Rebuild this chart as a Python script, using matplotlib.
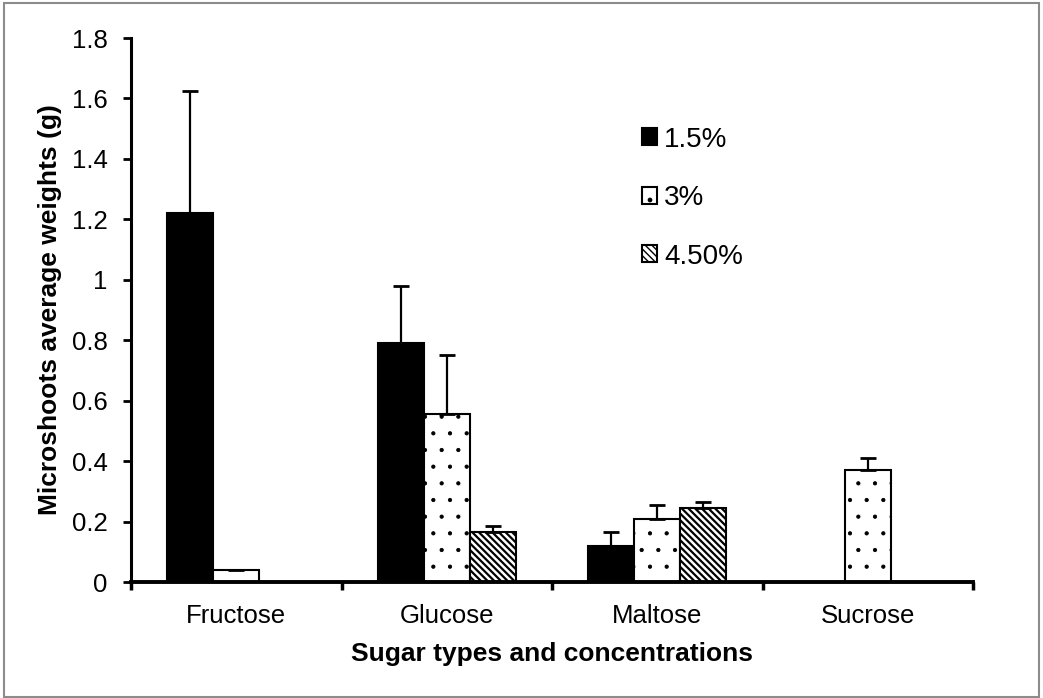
import matplotlib
matplotlib.use("Agg")
import matplotlib.pyplot as plt
import numpy as np
from matplotlib.patches import Rectangle

plt.rcParams['font.family'] = ['Liberation Sans', 'DejaVu Sans']

# data
sugars = ["Fructose", "Glucose", "Maltose", "Sucrose"]
conc_labels = ["1.5%", "3%", "4.50%"]
w_15 = [1.22, 0.79, 0.12, np.nan]
w_30 = [0.04, 0.555, 0.21, 0.37]
w_45 = [np.nan, 0.165, 0.245, np.nan]
err_15 = [0.405, 0.19, 0.045, np.nan]
err_30 = [np.nan, 0.195, 0.045, 0.04]
err_45 = [np.nan, 0.02, 0.02, np.nan]

fig = plt.figure(figsize=(10.43, 6.98), dpi=100)
ax = fig.add_axes([131/1043, 1 - 582/698, (973 - 131)/1043, (582 - 38)/698])

x = np.arange(len(sugars))
bw = 0.2185
styles = [
    dict(facecolor="black", hatch=None, hlw=1.0),
    dict(facecolor="white", hatch=".", hlw=0.6),
    dict(facecolor="white", hatch="\\\\\\\\\\", hlw=1.6),
]
series = [w_15, w_30, w_45]
errs = [err_15, err_30, err_45]

for i, (vals, ee, st, lab) in enumerate(zip(series, errs, styles, conc_labels)):
    pos = x + (i - 1) * bw
    with plt.rc_context({'hatch.linewidth': st["hlw"]}):
        ax.bar(pos, vals, width=bw, facecolor=st["facecolor"], hatch=st["hatch"],
               edgecolor="black", linewidth=1.5, label=lab, zorder=2)
    ee = np.array(ee, dtype=float)
    ax.errorbar(pos, vals, yerr=[np.zeros_like(ee), ee], fmt="none",
                ecolor="black", elinewidth=1.6, capsize=6, capthick=2, zorder=3)

ax.set_xlim(-0.5, 3.5)
ax.set_ylim(0, 1.8)
ax.set_yticks(np.arange(0, 1.81, 0.2))
ax.set_yticklabels(["0", "0.2", "0.4", "0.6", "0.8", "1", "1.2", "1.4", "1.6", "1.8"])
ax.set_xticks([-0.5, 0.5, 1.5, 2.5, 3.5])
ax.set_xticklabels([])
ax.set_xticks(x, minor=True)
ax.set_xticklabels(sugars, minor=True)
ax.tick_params(axis="x", which="minor", length=0, pad=16, labelsize=18.5)
ax.tick_params(axis="x", which="major", length=6, width=2.5, direction="out")
ax.tick_params(axis="y", length=6, width=2, direction="out", labelsize=18.5, pad=11)

for s in ["top", "right"]:
    ax.spines[s].set_visible(False)
ax.spines["left"].set_linewidth(2.2)
ax.spines["bottom"].set_linewidth(2.8)

ax.set_xlabel("Sugar types and concentrations", fontsize=19, fontweight="bold", labelpad=10)
ax.set_ylabel("Microshoots average weights (g)", fontsize=19, fontweight="bold", labelpad=7)

ax.legend(loc="upper left", bbox_to_anchor=(0.607, 0.837), frameon=False, fontsize=20,
          handlelength=0.55, handleheight=0.55, handletextpad=0.25, labelspacing=1.17,
          borderpad=0, borderaxespad=0)

fig.patches.append(Rectangle((4/1043, 1/698), 1035/1043, 694/698, transform=fig.transFigure,
                             fill=False, edgecolor="#8c8c8c", linewidth=1.5))

fig.savefig("out.png", dpi=100)
